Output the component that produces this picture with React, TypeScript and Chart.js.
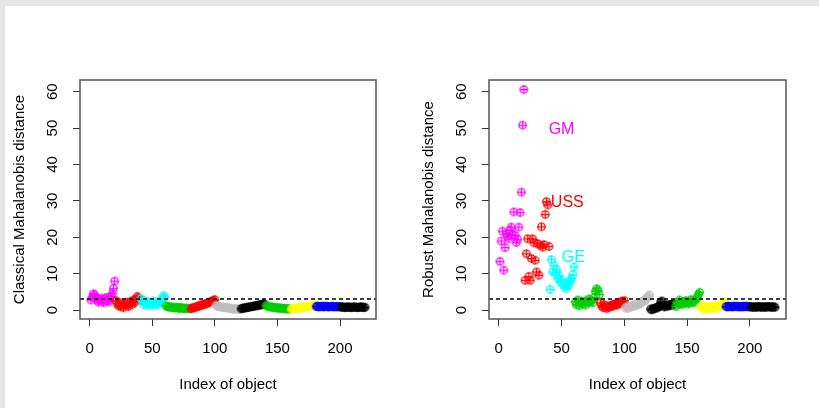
import React, { useEffect, useRef } from 'react';
import { Chart, registerables } from 'chart.js';

Chart.register(...registerables);

// ---------- data ----------
const groupColors = ['#FF00FF', '#FF0000', '#00FFFF', '#00CD00', '#FF0000', '#BEBEBE', '#000000', '#00CD00', '#FFFF00', '#0000FF', '#000000'];
const xTicks = [0, 50, 100, 150, 200];
const yTicks = [0, 10, 20, 30, 40, 50, 60];
const cutoff = 3.06;

// Classical Mahalanobis distance, 11 groups of 20 objects
const classicalG1 = [2.8, 3.6, 4.5, 4.2, 3.4, 2.7, 2.2, 2.9, 3.3, 2.5, 2.1, 3.0, 3.5, 2.6, 2.3, 3.1, 3.8, 4.6, 6.0, 8.0];
const classicalG2 = [2.6, 1.8, 1.2, 2.0, 0.9, 1.5, 0.7, 1.9, 1.3, 2.2, 1.0, 1.7, 2.4, 1.6, 2.8, 2.1, 3.1, 3.8, 3.3, 2.9];
const classicalG3 = [3.2, 2.4, 1.5, 2.6, 1.8, 1.3, 2.2, 1.6, 2.0, 1.4, 2.5, 1.7, 1.9, 1.5, 2.3, 2.0, 2.7, 3.3, 4.0, 3.5];
const classicalG4 = [1.2, 0.9, 1.0, 0.8, 0.9, 0.7, 0.8, 0.6, 0.7, 0.8, 0.6, 0.5, 0.7, 0.6, 0.5, 0.4, 0.6, 0.5, 0.4, 0.5];
const classicalG5 = [0.4, 0.6, 0.7, 0.7, 0.9, 1.0, 1.2, 1.2, 1.4, 1.5, 1.5, 1.7, 1.8, 2.0, 2.0, 2.2, 2.4, 2.5, 2.7, 2.9];
const classicalG6 = [1.3, 1.1, 1.0, 1.0, 0.9, 0.8, 0.8, 0.7, 0.7, 0.6, 0.6, 0.5, 0.5, 0.4, 0.4, 0.3, 0.4, 0.3, 0.2, 0.3];
const classicalG7 = [0.4, 0.5, 0.6, 0.6, 0.7, 0.8, 0.8, 0.9, 1.0, 1.0, 1.1, 1.2, 1.2, 1.3, 1.4, 1.4, 1.5, 1.6, 1.7, 1.6];
const classicalG8 = [1.3, 1.1, 1.0, 0.9, 0.9, 0.8, 0.8, 0.7, 0.6, 0.7, 0.6, 0.5, 0.6, 0.5, 0.4, 0.5, 0.4, 0.4, 0.3, 0.4];
const classicalG9 = [0.3, 0.4, 0.5, 0.4, 0.6, 0.5, 0.7, 0.6, 0.8, 0.7, 0.9, 0.8, 1.0, 0.9, 1.1, 1.0, 1.2, 1.2, 1.3, 1.4];
const classicalG10 = [1.0, 1.1, 0.9, 1.0, 1.0, 1.1, 0.9, 1.0, 1.1, 1.0, 0.9, 1.0, 1.0, 1.1, 0.9, 1.0, 1.0, 0.9, 1.0, 1.0];
const classicalG11 = [0.8, 0.9, 0.8, 0.7, 0.8, 0.9, 0.8, 0.8, 0.7, 0.8, 0.9, 0.8, 0.8, 0.7, 0.8, 0.8, 0.9, 0.8, 0.7, 0.8];

// Robust Mahalanobis distance, 11 groups of 20 objects
const robustG1 = [13.4, 19.0, 21.7, 11.0, 17.2, 21.0, 20.3, 19.6, 22.0, 22.8, 20.8, 27.0, 20.5, 18.6, 19.5, 22.8, 26.8, 32.4, 50.8, 60.6];
const robustG2 = [8.2, 15.5, 19.6, 9.3, 8.2, 14.2, 19.6, 18.5, 13.7, 10.5, 18.3, 9.6, 17.8, 22.9, 17.3, 18.0, 26.3, 29.8, 28.9, 17.5];
const robustG3 = [5.7, 13.9, 10.5, 12.3, 10.1, 11.2, 8.7, 9.5, 7.8, 8.2, 7.1, 6.4, 7.3, 5.9, 6.8, 7.3, 8.2, 8.7, 9.8, 11.9];
const robustG4 = [2.3, 1.5, 2.8, 1.2, 2.0, 2.5, 1.7, 2.2, 1.4, 2.6, 2.0, 3.1, 2.3, 2.7, 2.1, 3.5, 5.2, 5.9, 5.4, 4.3];
const robustG5 = [2.0, 1.2, 0.7, 1.5, 0.9, 0.5, 1.1, 0.8, 1.3, 1.0, 1.6, 1.2, 1.8, 1.4, 2.0, 1.7, 2.2, 2.5, 2.1, 2.6];
const robustG6 = [0.6, 0.9, 0.5, 1.0, 0.8, 1.3, 1.0, 1.5, 1.2, 1.7, 1.5, 2.0, 1.8, 2.3, 2.6, 2.4, 3.0, 3.3, 3.8, 4.2];
const robustG7 = [0.3, 0.1, 0.5, 0.4, 0.7, 0.6, 0.9, 1.0, 2.2, 2.5, 1.2, 0.9, 1.3, 1.1, 1.5, 1.2, 1.6, 1.4, 1.8, 1.7];
const robustG8 = [1.0, 2.2, 1.6, 2.8, 2.0, 1.5, 2.4, 1.9, 2.6, 2.1, 1.7, 2.3, 2.9, 2.0, 2.5, 2.2, 3.0, 3.6, 4.3, 4.9];
const robustG9 = [0.9, 0.5, 1.2, 0.3, 0.8, 0.6, 1.0, 0.4, 0.9, 0.7, 1.1, 0.5, 1.0, 0.8, 1.3, 1.0, 1.5, 1.8, 2.3, 2.0];
const robustG10 = [1.0, 0.9, 1.1, 1.0, 1.0, 0.9, 1.1, 1.0, 1.0, 1.1, 0.9, 1.0, 1.0, 0.9, 1.1, 1.0, 1.0, 1.1, 0.9, 1.0];
const robustG11 = [0.9, 0.8, 0.9, 0.9, 0.8, 0.9, 1.0, 0.9, 0.8, 0.9, 0.9, 0.8, 0.9, 0.9, 1.0, 0.9, 0.8, 0.9, 0.9, 0.8];

const classicalGroups = [classicalG1, classicalG2, classicalG3, classicalG4, classicalG5, classicalG6, classicalG7, classicalG8, classicalG9, classicalG10, classicalG11];
const robustGroups = [robustG1, robustG2, robustG3, robustG4, robustG5, robustG6, robustG7, robustG8, robustG9, robustG10, robustG11];

const annotationTexts = ['GM', 'USS', 'GE'];
const annotationX = [50, 54.6, 59.4];
const annotationY = [49.6, 29.6, 14.4];
const annotationColors = ['#FF00FF', '#FF0000', '#00FFFF'];

// ---------- styling / layout ----------
const X_MIN = -7.76;
const X_MAX = 228.76;
const Y_MIN = -2.43;
const Y_MAX = 63.2;
const FONT = "'Liberation Sans', Arial, Helvetica, sans-serif";

Chart.defaults.font.family = FONT;

const markerCache: Record<string, HTMLCanvasElement> = {};
function marker(color: string): HTMLCanvasElement {
  if (markerCache[color]) return markerCache[color];
  const c = document.createElement('canvas');
  c.width = 11;
  c.height = 11;
  const g = c.getContext('2d')!;
  g.strokeStyle = color;
  g.lineWidth = 1.25;
  g.beginPath();
  g.arc(5.5, 5.5, 3.7, 0, Math.PI * 2);
  g.stroke();
  g.beginPath();
  g.moveTo(5.5, 1.4);
  g.lineTo(5.5, 9.6);
  g.moveTo(1.4, 5.5);
  g.lineTo(9.6, 5.5);
  g.stroke();
  markerCache[color] = c;
  return c;
}

const boxPlugin = {
  id: 'rbox',
  afterDatasetsDraw(chart: any) {
    const { ctx, chartArea } = chart;
    ctx.save();
    ctx.strokeStyle = '#555';
    ctx.lineWidth = 1.5;
    ctx.strokeRect(chartArea.left, chartArea.top, chartArea.right - chartArea.left, chartArea.bottom - chartArea.top);
    ctx.restore();
  },
};

const labelPlugin = {
  id: 'rlabels',
  afterDatasetsDraw(chart: any) {
    const { ctx, scales } = chart;
    ctx.save();
    ctx.font = `16px ${FONT}`;
    ctx.textAlign = 'center';
    ctx.textBaseline = 'middle';
    annotationTexts.forEach((t, i) => {
      ctx.fillStyle = annotationColors[i];
      ctx.fillText(t, scales.x.getPixelForValue(annotationX[i]), scales.y.getPixelForValue(annotationY[i]));
    });
    ctx.restore();
  },
};

function buildChart(canvas: HTMLCanvasElement, groups: number[][], yTitle: string, rightPad: number, withLabels: boolean) {
  const datasets: any[] = [
    {
      type: 'line',
      data: [
        { x: X_MIN, y: cutoff },
        { x: X_MAX, y: cutoff },
      ],
      borderColor: '#000',
      borderWidth: 1.3,
      borderDash: [4, 3],
      pointRadius: 0,
      fill: false,
      order: 0,
    },
  ];
  groups.forEach((vals, g) => {
    datasets.push({
      type: 'scatter',
      data: vals.map((v, j) => ({ x: g * 20 + j + 1, y: v })),
      pointStyle: marker(groupColors[g]),
      pointRadius: 4,
      borderColor: groupColors[g],
      backgroundColor: groupColors[g],
      order: 30 - g,
    });
  });

  return new Chart(canvas, {
    type: 'scatter',
    data: { datasets },
    options: {
      animation: false,
      responsive: false,
      maintainAspectRatio: false,
      events: [],
      layout: { padding: { left: 0, top: 80, right: rightPad, bottom: 0 } },
      plugins: { legend: { display: false }, tooltip: { enabled: false } },
      scales: {
        x: {
          type: 'linear',
          min: X_MIN,
          max: X_MAX,
          afterBuildTicks: (s: any) => {
            s.ticks = xTicks.map((v) => ({ value: v }));
          },
          afterFit: (s: any) => {
            s.height = 89;
          },
          grid: { display: true, drawOnChartArea: false, drawTicks: true, tickLength: 7, color: '#333', lineWidth: 1 },
          border: { display: false },
          ticks: { color: '#000', font: { size: 15 }, padding: 14, maxRotation: 0, minRotation: 0, autoSkip: false },
          title: { display: true, text: 'Index of object', color: '#000', font: { size: 15 }, padding: { top: 0, bottom: 14 } },
        },
        y: {
          type: 'linear',
          min: Y_MIN,
          max: Y_MAX,
          afterBuildTicks: (s: any) => {
            s.ticks = yTicks.map((v) => ({ value: v }));
          },
          afterFit: (s: any) => {
            s.width = 80;
          },
          grid: { display: true, drawOnChartArea: false, drawTicks: true, tickLength: 7, color: '#333', lineWidth: 1 },
          border: { display: false },
          ticks: { color: '#000', font: { size: 15 }, padding: 11.5, minRotation: 90, maxRotation: 90, crossAlign: 'center', autoSkip: false },
          title: { display: true, text: yTitle, color: '#000', font: { size: 15 }, padding: { top: 11, bottom: 0 } },
        },
      },
    } as any,
    plugins: withLabels ? [boxPlugin, labelPlugin] : [boxPlugin],
  } as any);
}

export default function App() {
  const leftRef = useRef<HTMLCanvasElement>(null);
  const rightRef = useRef<HTMLCanvasElement>(null);

  useEffect(() => {
    const c1 = buildChart(leftRef.current!, classicalGroups, 'Classical Mahalanobis distance', 33, false);
    const c2 = buildChart(rightRef.current!, robustGroups, 'Robust Mahalanobis distance', 33, true);
    return () => {
      c1.destroy();
      c2.destroy();
    };
  }, []);

  return (
    <div style={{ position: 'fixed', left: 0, top: 0, width: 819, height: 408, background: '#e6e6e6', overflow: 'hidden' }}>
      <div style={{ position: 'absolute', left: 5, top: 6, width: 814, height: 402, background: '#ffffff' }} />
      <canvas ref={leftRef} width={409} height={408} style={{ position: 'absolute', left: 0, top: 0, width: 409, height: 408 }} />
      <canvas ref={rightRef} width={410} height={408} style={{ position: 'absolute', left: 409, top: 0, width: 410, height: 408 }} />
    </div>
  );
}
